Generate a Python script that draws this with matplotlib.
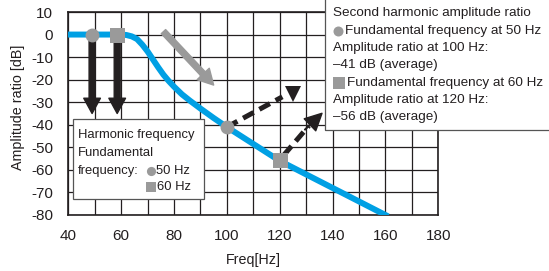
import matplotlib
matplotlib.use("Agg")
import matplotlib.pyplot as plt
from matplotlib.patches import Rectangle
from matplotlib.lines import Line2D

plt.rcParams['font.family'] = ['Liberation Sans', 'DejaVu Sans']
plt.rcParams['axes.unicode_minus'] = False

# ---- data ----
freq = [40, 60, 62, 64, 66, 68, 70, 72, 74, 76, 78, 80, 83, 86, 90, 95, 100,
        110, 120, 130, 140, 150, 160]
amp_db = [0, 0, -0.2, -0.8, -2, -4.5, -7.5, -11, -14.5, -17.8, -20.6, -23.1, -26.5,
          -29.3, -32.8, -37, -41, -48.5, -56, -62, -68, -74, -80]

fund_circle = (49, 0)       # 50 Hz fundamental marker
fund_square = (58.5, 0)     # 60 Hz fundamental marker
harm_circle = (100, -41)    # 2nd harmonic of 50 Hz
harm_square = (120, -55.5)  # 2nd harmonic of 60 Hz

down_arrow_tip = -35
gray_arrow = [(76, 1.3), (95, -22.4)]
dash1 = [(100, -41), (121, -27.6)]
dash1_head = (125.2, -26.4)
dash2 = [(121.5, -53.5), (131, -40.5)]
dash2_head = [(129.5, -42.2), (136, -34.9)]

xticks = [40, 60, 80, 100, 120, 140, 160, 180]
yticks = [10, 0, -10, -20, -30, -40, -50, -60, -70, -80]

box1_lines = ["Harmonic frequency", "Fundamental", "frequency:"]
box1_syms = [("o", "50 Hz"), ("s", "60 Hz")]
box2_lines = ["Second harmonic amplitude ratio",
              ("o", "Fundamental frequency at 50 Hz"),
              "Amplitude ratio at 100 Hz:",
              "\u201341 dB (average)",
              ("s", "Fundamental frequency at 60 Hz"),
              "Amplitude ratio at 120 Hz:",
              "\u201356 dB (average)"]

DARK = '#231f20'
GRAY = '#9a9a9a'
BLUE = '#00a0e4'
EDGE = '#555555'

W, H = 549, 271
fig = plt.figure(figsize=(W / 100, H / 100), dpi=100)

def fx(x):
    return x / W

def fy(y):
    return 1 - y / H

ax = fig.add_axes([fx(68.3), fy(215), (438.3 - 68.3) / W, (215 - 12) / H])
ax.set_xlim(40, 180)
ax.set_ylim(-80, 10)
ax.set_xticks(xticks)
ax.set_xticks(range(50, 180, 20), minor=True)
ax.set_yticks(yticks)
ax.set_xticklabels([str(t) for t in xticks])
ax.set_yticklabels([str(t) for t in yticks])
ax.tick_params(which='both', length=0, labelsize=11, colors=DARK)
ax.tick_params(axis='y', pad=11)
ax.tick_params(axis='x', pad=10)
ax.grid(which='both', color=DARK, lw=0.9)
ax.set_axisbelow(True)
for s in ax.spines.values():
    s.set_color(DARK)
    s.set_linewidth(1.2)

ax.set_xlabel("Freq[Hz]", fontsize=10.3, color=DARK, labelpad=7)
ax.set_ylabel("Amplitude ratio [dB]", fontsize=10.3, color=DARK)
ax.yaxis.set_label_coords(-0.117, 0.532)

# curve
ax.plot(freq, amp_db, color=BLUE, lw=4.3, solid_capstyle='projecting',
        solid_joinstyle='round', zorder=3)

arrow_style = 'simple,head_width=12,head_length=11,tail_width=4.3'
# black down arrows
for (x0, y0) in (fund_circle, fund_square):
    ax.annotate('', xy=(x0, down_arrow_tip), xytext=(x0, y0),
                arrowprops=dict(arrowstyle=arrow_style, mutation_scale=1, color=DARK,
                                shrinkA=0, shrinkB=0), zorder=4)

# gray arrow
ax.annotate('', xy=gray_arrow[1], xytext=gray_arrow[0],
            arrowprops=dict(arrowstyle=arrow_style, mutation_scale=1, color=GRAY,
                            shrinkA=0, shrinkB=0), zorder=4)

# dashed arrows
ax.plot([p[0] for p in dash1], [p[1] for p in dash1], color=DARK, lw=3.6,
        dashes=(2.4, 1.3), solid_capstyle='butt', zorder=4)
ax.plot([dash1_head[0]], [dash1_head[1]], marker='v', ms=11.5, color=DARK, mew=0, zorder=4)
ax.plot([p[0] for p in dash2], [p[1] for p in dash2], color=DARK, lw=3.6,
        dashes=(2.4, 1.3), solid_capstyle='butt', zorder=4)
ax.annotate('', xy=dash2_head[1], xytext=dash2_head[0],
            arrowprops=dict(arrowstyle='simple,head_width=12,head_length=12,tail_width=0.5',
                            mutation_scale=1, color=DARK, shrinkA=0, shrinkB=0), zorder=4)

# markers
for (x0, y0) in (fund_circle, harm_circle):
    ax.plot([x0], [y0], marker='o', ms=10, color=GRAY, mew=0, zorder=5)
for (x0, y0) in (fund_square, harm_square):
    ax.plot([x0], [y0], marker='s', ms=10.8, color=GRAY, mew=0, zorder=5)


def sym(x, y, m, ms):
    fig.add_artist(Line2D([fx(x)], [fy(y)], marker=m, ms=ms, color=GRAY, mew=0,
                          transform=fig.transFigure, zorder=7))

# box 1
fig.add_artist(Rectangle((fx(73.3), fy(199.3)), (204.3 - 73.3) / W, (199.3 - 119.3) / H,
                         transform=fig.transFigure, facecolor='white', edgecolor=EDGE,
                         lw=0.9, zorder=5))
fs_box = 9.4
ys1 = [135, 152.7, 170.7, 187.3]
for i, t in enumerate(box1_lines):
    fig.text(fx(78), fy(ys1[i]), t, fontsize=fs_box, color=DARK, va='center', zorder=6)
sym_x = [150.5, 151.3]
sym_ms = [6.6, 6.8]
txt_x = [156, 157]
for i, (m, t) in enumerate(box1_syms):
    sym(sym_x[i], ys1[2 + i], m, sym_ms[i])
    fig.text(fx(txt_x[i]), fy(ys1[2 + i]), t, fontsize=fs_box, color=DARK, va='center', zorder=6)

# box 2 (extends past the top and right edges of the picture)
fig.add_artist(Rectangle((fx(325), fy(130)), (W - 325 + 5) / W, 140 / H,
                         transform=fig.transFigure, facecolor='white', edgecolor='none',
                         zorder=5, clip_on=False))
fig.add_artist(Line2D([fx(325), fx(325), fx(W + 5)], [fy(-5), fy(130), fy(130)],
                      color=EDGE, lw=0.9, transform=fig.transFigure, zorder=5))
ys2 = [13.3, 31, 48.3, 65, 82.7, 100, 117.3]
for i, item in enumerate(box2_lines):
    if isinstance(item, tuple):
        m, t = item
        if m == "o":
            sym(337.8, ys2[i], m, 7.2)
            tx = 344.7
        else:
            sym(339.2, ys2[i], m, 8.3)
            tx = 347.3
        fig.text(fx(tx), fy(ys2[i]), t, fontsize=9.7, color=DARK, va='center', zorder=6)
    else:
        fig.text(fx(332.7), fy(ys2[i]), item, fontsize=9.7, color=DARK, va='center', zorder=6)

fig.savefig("out.png", dpi=100)
